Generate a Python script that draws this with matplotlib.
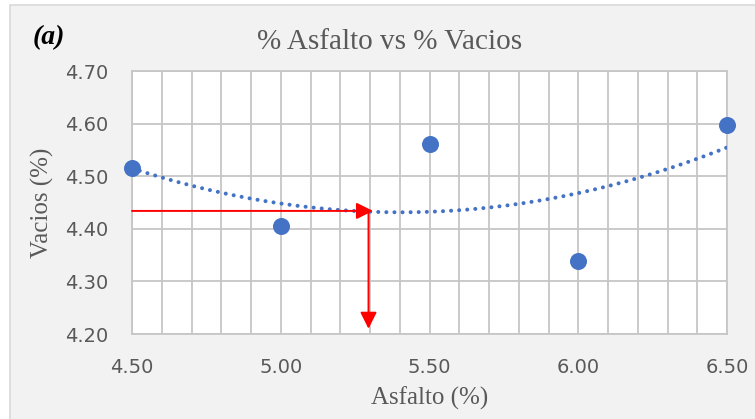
import numpy as np
import matplotlib
matplotlib.use("Agg")
import matplotlib.pyplot as plt
from matplotlib.patches import Rectangle
from matplotlib.ticker import MultipleLocator, FormatStrFormatter

# Measured data: asphalt content vs air voids
asfalto = [4.50, 5.00, 5.50, 6.00, 6.50]
vacios = [4.515, 4.405, 4.562, 4.338, 4.598]

# Design asphalt content
asfalto_diseno = 5.295
vacios_diseno = 4.434

x_ticks = [4.50, 5.00, 5.50, 6.00, 6.50]
y_ticks = [4.20, 4.30, 4.40, 4.50, 4.60, 4.70]

gray_text = "#595959"
grid_gray = "#c6c6c6"
blue = "#4472c4"

fig = plt.figure(figsize=(7.55, 4.19), dpi=100, facecolor="white")
# chart area background with thin border
fig.patches.append(Rectangle((10 / 755, -0.01), 1.0, 1 - 5 / 419 + 0.01,
                             transform=fig.transFigure, facecolor="#f2f2f2",
                             edgecolor="#d9d9d9", linewidth=1.2, zorder=-10))

ax = fig.add_axes([132 / 755, 1 - 334 / 419, (727 - 132) / 755, (334 - 71) / 419])
ax.set_facecolor("white")
ax.set_xlim(4.5, 6.5)
ax.set_ylim(4.2, 4.7)
ax.set_xticks(x_ticks)
ax.set_yticks(y_ticks)
ax.xaxis.set_minor_locator(MultipleLocator(0.1))
ax.xaxis.set_major_formatter(FormatStrFormatter("%.2f"))
ax.yaxis.set_major_formatter(FormatStrFormatter("%.2f"))
ax.grid(True, which="both", axis="x", color=grid_gray, linewidth=1.3)
ax.grid(True, which="major", axis="y", color=grid_gray, linewidth=1.3)
ax.set_axisbelow(True)
for s in ax.spines.values():
    s.set_color(grid_gray)
    s.set_linewidth(1.3)
ax.tick_params(which="both", length=0, labelsize=14, labelcolor=gray_text)
ax.tick_params(axis="x", pad=17)
ax.tick_params(axis="y", pad=17)

# second-order polynomial trend line
coef = np.polyfit(asfalto, vacios, 2)
xs = np.linspace(asfalto[0], asfalto[-1], 200)
ax.plot(xs, np.polyval(coef, xs), color=blue, linewidth=2.9,
        linestyle=(0, (0.01, 2.0)), dash_capstyle="round", zorder=3)

ax.scatter(asfalto, vacios, s=150, color=blue, zorder=4, clip_on=False,
           linewidths=0)

# red arrows: voids target -> curve -> asphalt content
arrow_kw = dict(arrowstyle="-|>,head_length=1.0,head_width=0.5",
                color="#ff0000", linewidth=1.4, shrinkA=0, shrinkB=0)
ax.annotate("", xy=(5.31, vacios_diseno), xytext=(4.5, vacios_diseno),
            arrowprops=arrow_kw, zorder=5)
ax.annotate("", xy=(asfalto_diseno, 4.21), xytext=(asfalto_diseno, vacios_diseno),
            arrowprops=arrow_kw, zorder=5)

serif = ["Liberation Serif", "DejaVu Serif"]
fig.text(390 / 755, 1 - 42 / 419, "% Asfalto vs % Vacios", ha="center", va="center",
         fontsize=21, color=gray_text, family=serif)
fig.text(33 / 755, 1 - 38 / 419, "(a)", ha="left", va="center", fontsize=20,
         fontweight="bold", fontstyle="italic", color="black", family=serif)
ax.set_xlabel("Asfalto (%)", fontsize=18, color=gray_text, family=serif)
ax.set_ylabel("Vacios (%)", fontsize=18, color=gray_text, family=serif)
ax.xaxis.set_label_coords(0.5, -(398 - 334) / 263, transform=ax.transAxes)
ax.yaxis.set_label_coords(-(132 - 42) / 595, 0.5, transform=ax.transAxes)
ax.xaxis.label.set_va("center")
ax.yaxis.label.set_va("center")

fig.savefig("out.png", dpi=100, facecolor=fig.get_facecolor())
